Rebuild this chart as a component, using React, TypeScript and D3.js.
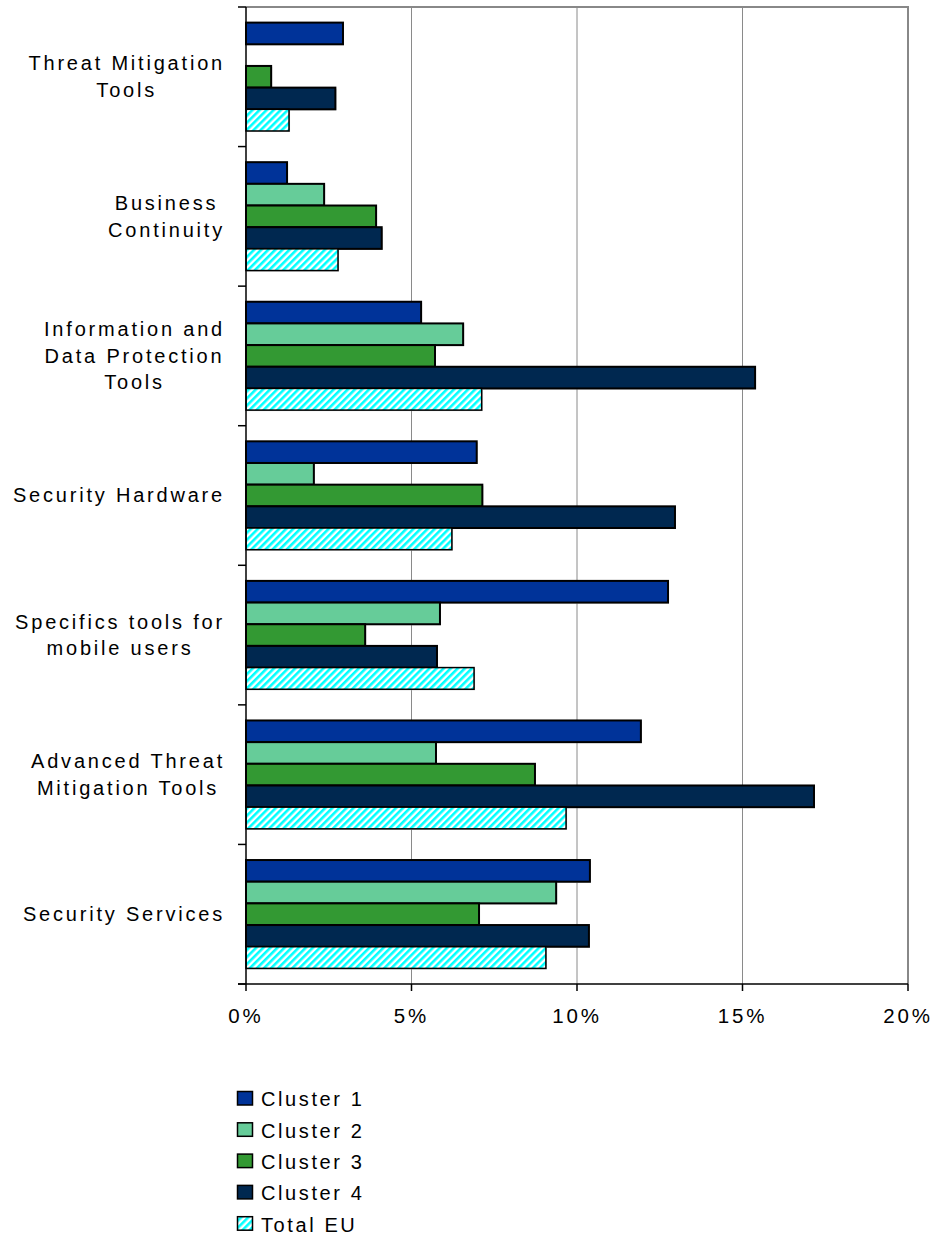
import React, { useEffect, useRef } from "react";
import * as d3 from "d3";

const categories: string[] = [
  "Threat Mitigation Tools",
  "Business Continuity",
  "Information and Data Protection Tools",
  "Security Hardware",
  "Specifics tools for mobile users",
  "Advanced Threat Mitigation Tools",
  "Security Services",
];

const categoryLines: string[][] = [
  ["Threat Mitigation", "Tools"],
  ["Business", "Continuity"],
  ["Information and", "Data Protection", "Tools"],
  ["Security Hardware"],
  ["Specifics tools for", "mobile users"],
  ["Advanced Threat", "Mitigation Tools"],
  ["Security Services"],
];

const seriesNames: string[] = ["Cluster 1", "Cluster 2", "Cluster 3", "Cluster 4", "Total EU"];

const cluster1: (number | null)[] = [2.93, 1.24, 5.29, 6.97, 12.75, 11.93, 10.39];
const cluster2: (number | null)[] = [null, 2.36, 6.56, 2.05, 5.86, 5.74, 9.37];
const cluster3: (number | null)[] = [0.76, 3.93, 5.71, 7.14, 3.6, 8.73, 7.04];
const cluster4: (number | null)[] = [2.7, 4.1, 15.38, 12.96, 5.77, 17.16, 10.36];
const totalEU: (number | null)[] = [1.3, 2.78, 7.12, 6.22, 6.89, 9.67, 9.06];

const seriesValues = [cluster1, cluster2, cluster3, cluster4, totalEU];
const seriesColors: string[] = ["#003399", "#66CC99", "#339933", "#002850", "url(#hatch)"];

const xTicks: number[] = [0, 5, 10, 15, 20];

const FONT = "'Liberation Sans', Arial, Helvetica, sans-serif";

export default function App() {
  const ref = useRef<SVGSVGElement | null>(null);

  useEffect(() => {
    const svg = d3.select(ref.current);
    svg.selectAll("*").remove();

    const left = 246, right = 908, top = 7, bottom = 984;

    const defs = svg.append("defs");
    const pat = defs
      .append("pattern")
      .attr("id", "hatch")
      .attr("patternUnits", "userSpaceOnUse")
      .attr("width", 5)
      .attr("height", 5)
      .attr("patternTransform", "rotate(45)");
    pat.append("rect").attr("width", 5).attr("height", 5).attr("fill", "#ffffff");
    pat.append("rect").attr("width", 2.6).attr("height", 5).attr("fill", "#00FFFF");

    const x = d3.scaleLinear().domain([0, 20]).range([left, right]);
    const y = d3.scaleBand<string>().domain(categories).range([top, bottom]).padding(0);
    const yi = d3
      .scaleBand<string>()
      .domain(seriesNames)
      .range([0, y.bandwidth()])
      .paddingInner(0)
      .paddingOuter(0.72);

    // gridlines
    svg
      .append("g")
      .selectAll("line")
      .data(xTicks.filter((t) => t > 0 && t < 20))
      .join("line")
      .attr("x1", (d) => x(d))
      .attr("x2", (d) => x(d))
      .attr("y1", top)
      .attr("y2", bottom)
      .attr("stroke", "#8a8a8a")
      .attr("stroke-width", 1);

    // plot border top & right
    svg
      .append("path")
      .attr("d", `M${left},${top}H${right}V${bottom}`)
      .attr("fill", "none")
      .attr("stroke", "#888888")
      .attr("stroke-width", 2);

    // bars
    const bars = svg.append("g");
    categories.forEach((cat, ci) => {
      seriesNames.forEach((s, si) => {
        const v = seriesValues[si][ci];
        if (v === null || v === undefined) return;
        const y0 = (y(cat) as number) + (yi(s) as number);
        const h = yi.bandwidth();
        bars
          .append("rect")
          .attr("x", x(0) + 1)
          .attr("y", y0 + 1)
          .attr("width", x(v) - x(0))
          .attr("height", h)
          .attr("fill", "#bdbdbd");
        bars
          .append("rect")
          .attr("x", x(0))
          .attr("y", y0)
          .attr("width", x(v) - x(0))
          .attr("height", h)
          .attr("fill", seriesColors[si])
          .attr("stroke", "#000")
          .attr("stroke-width", si === 4 ? 1.5 : 2);
      });
    });

    // left axis
    const ax = svg.append("g").attr("stroke", "#000").attr("stroke-width", 1.5);
    ax.append("line").attr("x1", left).attr("x2", left).attr("y1", top).attr("y2", bottom);
    const bounds = categories.map((c) => y(c) as number).concat([bottom]);
    ax.selectAll("line.yt")
      .data(bounds)
      .join("line")
      .attr("class", "yt")
      .attr("x1", left - 8)
      .attr("x2", left)
      .attr("y1", (d) => d)
      .attr("y2", (d) => d);

    // bottom axis
    ax.append("line").attr("x1", left - 8).attr("x2", right).attr("y1", bottom).attr("y2", bottom);
    ax.selectAll("line.xt")
      .data(xTicks)
      .join("line")
      .attr("class", "xt")
      .attr("x1", (d) => x(d))
      .attr("x2", (d) => x(d))
      .attr("y1", bottom)
      .attr("y2", bottom + 7);

    // x tick labels
    svg
      .append("g")
      .selectAll("text")
      .data(xTicks)
      .join("text")
      .attr("x", (d) => x(d))
      .attr("y", 1023)
      .attr("text-anchor", "middle")
      .attr("font-family", FONT)
      .attr("font-size", 20.5)
      .attr("letter-spacing", 2.9)
      .attr("fill", "#000")
      .text((d) => `${d}%`);

    // category labels
    const labelG = svg.append("g");
    const lineH = 26.7;
    categories.forEach((cat, ci) => {
      const lines = categoryLines[ci];
      const cy = (y(cat) as number) + y.bandwidth() / 2;
      const g = labelG.append("g");
      const texts = lines.map((ln, li) =>
        g
          .append("text")
          .attr("y", cy + 6.8 + (li - (lines.length - 1) / 2) * lineH)
          .attr("text-anchor", "middle")
          .attr("font-family", FONT)
          .attr("font-size", 20)
          .attr("letter-spacing", 2.8)
          .attr("fill", "#000")
          .text(ln)
      );
      const widths = texts.map((t) => (t.node() as SVGTextElement).getComputedTextLength());
      const maxW = Math.max(...widths);
      const cx = 225 - maxW / 2;
      texts.forEach((t) => t.attr("x", cx));
    });

    // legend
    const leg = svg.append("g");
    seriesNames.forEach((s, si) => {
      const ly = 1091.5 + si * 31.3;
      leg
        .append("rect")
        .attr("x", 237.5)
        .attr("y", ly)
        .attr("width", 15)
        .attr("height", 13.5)
        .attr("fill", seriesColors[si])
        .attr("stroke", "#000")
        .attr("stroke-width", 1.5);
      leg
        .append("text")
        .attr("x", 261)
        .attr("y", ly + 14.8)
        .attr("font-family", FONT)
        .attr("font-size", 20)
        .attr("letter-spacing", 2.6)
        .attr("fill", "#000")
        .text(s);
    });
  }, []);

  return (
    <svg
      ref={ref}
      width={934}
      height={1238}
      style={{ position: "absolute", left: 0, top: 0, background: "#fff" }}
    />
  );
}
